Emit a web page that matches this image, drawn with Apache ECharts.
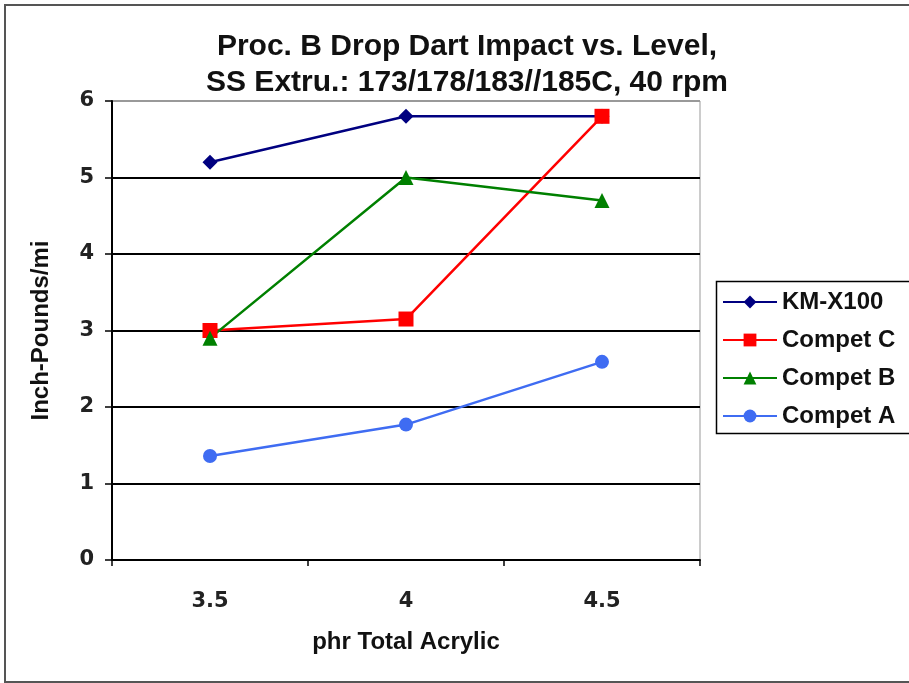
<!DOCTYPE html>
<html>
<head>
<meta charset="utf-8">
<script src="https://cdn.jsdelivr.net/npm/echarts@6/dist/echarts.min.js"></script>
<style>
  html, body { margin: 0; padding: 0; background: #fff; overflow: hidden; }
  #frame { position: absolute; left: 4px; top: 4px; width: 920px; height: 679px; border: 2px solid #555; border-right: none; box-sizing: border-box; }
  #chart { position: absolute; left: 0; top: 0; width: 909px; height: 683px; }
</style>
</head>
<body>
<div id="frame"></div>
<div id="chart"></div>
<script>
// phr total acrylic levels
const categories = ['3.5', '4', '4.5'];

// drop dart impact, inch-pounds/mil
const kmX100  = [5.2, 5.8, 5.8];
const competC = [3.0, 3.15, 5.8];
const competB = [2.9, 5.0, 4.7];
const competA = [1.36, 1.77, 2.59];

const yTicks = [0, 1, 2, 3, 4, 5, 6];

const font = 'Arial, "Liberation Sans", sans-serif';
const digitFont = '"DejaVu Sans", sans-serif';

const chart = echarts.init(document.getElementById('chart'), null, { renderer: 'canvas' });

function line(name, data, color, symbol, size) {
  return {
    name, type: 'line', data,
    symbol, symbolSize: size,
    lineStyle: { color, width: 2.5 },
    itemStyle: { color },
    emphasis: { disabled: true },
    animation: false
  };
}

chart.setOption({
  backgroundColor: 'transparent',
  title: {
    text: 'Proc. B Drop Dart Impact vs. Level,\nSS Extru.: 173/178/183//185C, 40 rpm',
    left: 462, top: 24, textAlign: 'center',
    textStyle: { fontFamily: font, fontSize: 30, fontWeight: 'bold', color: '#111', lineHeight: 36 }
  },
  grid: { left: 112, right: 209, top: 101, bottom: 123, show: true, borderColor: '#999', borderWidth: 1 },
  // legend frame runs past the right edge of the page
  graphic: [{
    type: 'rect', silent: true, z: 0,
    shape: { x: 716.5, y: 281.5, width: 230, height: 152 },
    style: { fill: 'none', stroke: '#000', lineWidth: 1.5 }
  }],
  legend: {
    orient: 'vertical', left: 716, top: 281,
    data: ['KM-X100', 'Compet C', 'Compet B', 'Compet A'],
    itemWidth: 54, itemHeight: 16, itemGap: 14,
    padding: [9, 10, 6, 6],
    borderWidth: 0,
    textStyle: { fontFamily: font, fontSize: 24, fontWeight: 'bold', color: '#111' }
  },
  xAxis: {
    type: 'category', data: categories, boundaryGap: true,
    name: 'phr Total Acrylic', nameLocation: 'middle', nameGap: 70,
    nameTextStyle: { fontFamily: font, fontSize: 24, fontWeight: 'bold', color: '#111' },
    axisLine: { lineStyle: { color: '#000', width: 2 } },
    axisTick: { show: true, length: 6, lineStyle: { color: '#000', width: 1.5 } },
    axisLabel: { margin: 31, fontFamily: digitFont, fontSize: 21, fontWeight: 'bold', color: '#222' }
  },
  yAxis: {
    type: 'value', min: 0, max: 6, interval: 1,
    name: 'Inch-Pounds/mi', nameLocation: 'middle', nameGap: 59, nameRotate: 90,
    nameTextStyle: { fontFamily: font, fontSize: 24, fontWeight: 'bold', color: '#111' },
    axisLine: { show: true, lineStyle: { color: '#000', width: 2 } },
    axisTick: { show: true, length: 7, lineStyle: { color: '#000', width: 1.5 } },
    axisLabel: {
      margin: 18, fontFamily: digitFont, fontSize: 21, fontWeight: 'bold', color: '#222',
      formatter: v => yTicks.includes(v) ? String(v) : ''
    },
    splitLine: { show: true, lineStyle: { color: ['#000', '#000', '#000', '#000', '#000', '#000', '#999'], width: 2 } }
  },
  series: [
    line('KM-X100', kmX100, '#000080', 'diamond', 15),
    line('Compet C', competC, '#ff0000', 'rect', 15),
    line('Compet B', competB, '#008000', 'triangle', 15),
    line('Compet A', competA, '#3f6cf2', 'circle', 14)
  ]
});
</script>
</body>
</html>
